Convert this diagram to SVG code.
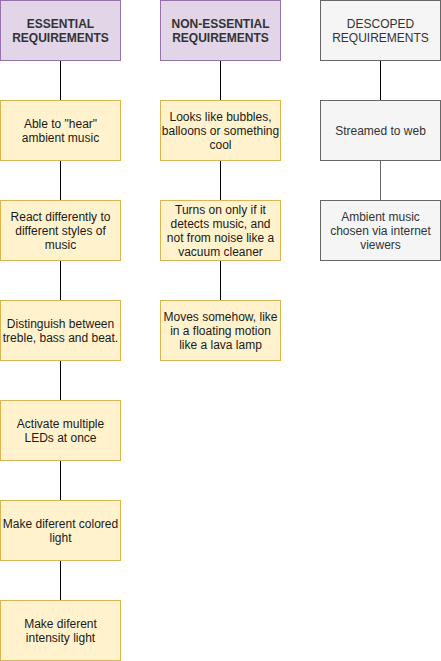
<svg xmlns="http://www.w3.org/2000/svg" width="441" height="661" viewBox="0 0 441 661">
<style>
text{font-family:"Liberation Sans",Arial,sans-serif;font-size:12px;text-anchor:middle;fill:#1a1a1a}
.hd{font-weight:bold;fill:#333}
.hd2{fill:#333}
.p{fill:#e1d5e7;stroke:#9673a6}
.y{fill:#fff2cc;stroke:#d6b656}
.g{fill:#f5f5f5;stroke:#666}
.gt{fill:#333}
.c{stroke:#000;fill:none}
</style>
<rect width="441" height="661" fill="#fff"/>
<g id="connectors">
<path class="c" d="M60.5 60.5V100.5M60.5 160.5V200.5M60.5 260.5V300.5M60.5 360.5V400.5M60.5 460.5V500.5M60.5 560.5V600.5"/>
<path class="c" d="M220.5 60.5V100.5M220.5 160.5V200.5M220.5 260.5V300.5"/>
<path class="c" d="M380.5 60.5V100.5"/>
<path d="M380.5 160.5V200.5" stroke="#666" fill="none"/>
</g>
<g id="essential"><rect class="p" x="0.5" y="0.5" width="120" height="60"/><text class="hd" x="60.5" y="28">ESSENTIAL</text><text class="hd" x="60.5" y="42">REQUIREMENTS</text></g>
<g id="nonessential"><rect class="p" x="160.5" y="0.5" width="120" height="60"/><text class="hd" x="220.5" y="28">NON-ESSENTIAL</text><text class="hd" x="220.5" y="42">REQUIREMENTS</text></g>
<g id="descoped"><rect class="g" x="320.5" y="0.5" width="120" height="60"/><text class="hd2" x="380.5" y="28">DESCOPED</text><text class="hd2" x="380.5" y="42">REQUIREMENTS</text></g>
<g id="e1"><rect class="y" x="0.5" y="100.5" width="120" height="60"/><text x="60.5" y="128">Able to "hear"</text><text x="60.5" y="142">ambient music</text></g>
<g id="e2"><rect class="y" x="0.5" y="200.5" width="120" height="60"/><text x="60.5" y="221">React differently to</text><text x="60.5" y="235">different styles of</text><text x="60.5" y="249">music</text></g>
<g id="e3"><rect class="y" x="0.5" y="300.5" width="120" height="60"/><text x="60.5" y="328">Distinguish between</text><text x="60.5" y="342">treble, bass and beat.</text></g>
<g id="e4"><rect class="y" x="0.5" y="400.5" width="120" height="60"/><text x="60.5" y="428">Activate multiple</text><text x="60.5" y="442">LEDs at once</text></g>
<g id="e5"><rect class="y" x="0.5" y="500.5" width="120" height="60"/><text x="60.5" y="528">Make diferent colored</text><text x="60.5" y="542">light</text></g>
<g id="e6"><rect class="y" x="0.5" y="600.5" width="120" height="60"/><text x="60.5" y="628">Make diferent</text><text x="60.5" y="642">intensity light</text></g>
<g id="n1"><rect class="y" x="160.5" y="100.5" width="120" height="60"/><text x="220.5" y="121">Looks like bubbles,</text><text x="220.5" y="135">balloons or something</text><text x="220.5" y="149">cool</text></g>
<g id="n2"><rect class="y" x="160.5" y="200.5" width="120" height="60"/><text x="220.5" y="214">Turns on only if it</text><text x="220.5" y="228">detects music, and</text><text x="220.5" y="242">not from noise like a</text><text x="220.5" y="256">vacuum cleaner</text></g>
<g id="n3"><rect class="y" x="160.5" y="300.5" width="120" height="60"/><text x="220.5" y="321">Moves somehow, like</text><text x="220.5" y="335">in a floating motion</text><text x="220.5" y="349">like a lava lamp</text></g>
<g id="d1"><rect class="g" x="320.5" y="100.5" width="120" height="60"/><text class="gt" x="380.5" y="135">Streamed to web</text></g>
<g id="d2"><rect class="g" x="320.5" y="200.5" width="120" height="60"/><text class="gt" x="380.5" y="221">Ambient music</text><text class="gt" x="380.5" y="235">chosen via internet</text><text class="gt" x="380.5" y="249">viewers</text></g>
</svg>
